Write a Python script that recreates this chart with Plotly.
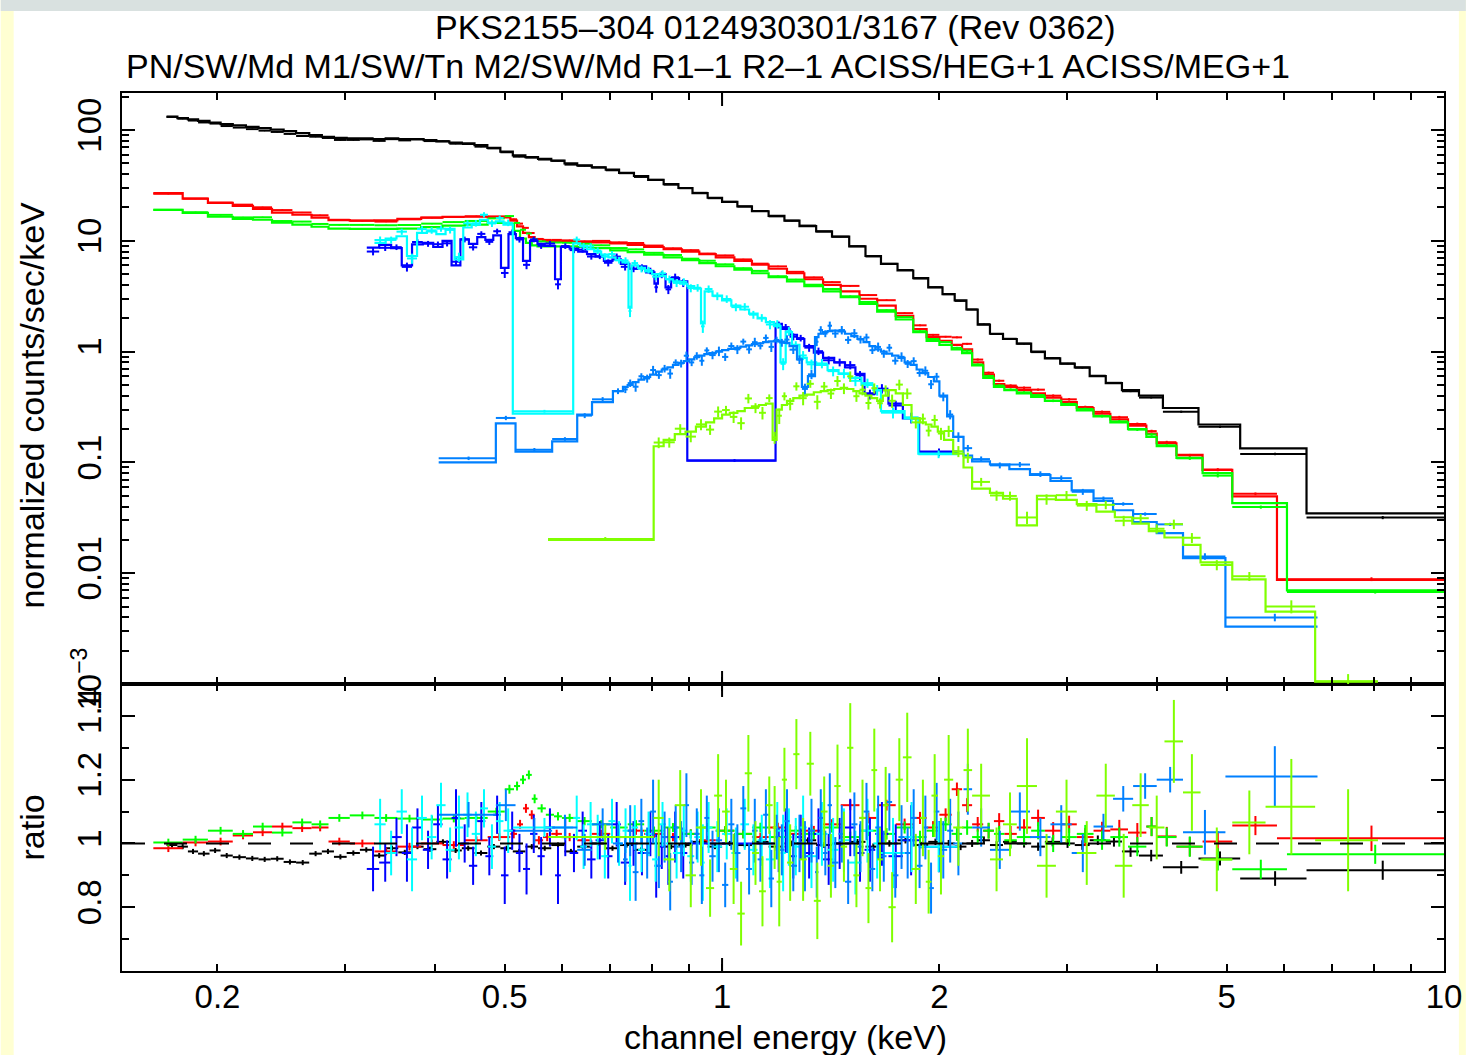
import math
import plotly.graph_objects as go

# ---------------------------------------------------------------------------
# Spectral data: bin edges (keV), folded model (counts/s/keV),
# data/model ratio and 1-sigma ratio error for every instrument.
# ---------------------------------------------------------------------------

# EPIC-pn  (PN/SW/Md)
pn_edges = [0.170, 0.176, 0.182, 0.188, 0.195, 0.202, 0.210, 0.219, 0.228, 0.237,
            0.247, 0.257, 0.268, 0.279, 0.290, 0.302, 0.315, 0.328, 0.342, 0.356,
            0.371, 0.386, 0.402, 0.419, 0.436, 0.454, 0.473, 0.493, 0.513, 0.534,
            0.556, 0.580, 0.605, 0.630, 0.660, 0.690, 0.720, 0.755, 0.790, 0.830,
            0.870, 0.910, 0.955, 1.00, 1.05, 1.10, 1.16, 1.22, 1.28, 1.35,
            1.42, 1.50, 1.58, 1.66, 1.75, 1.84, 1.93, 2.02, 2.10, 2.18,
            2.26, 2.35, 2.45, 2.56, 2.68, 2.80, 2.94, 3.08, 3.23, 3.40,
            3.58, 3.78, 4.08, 4.57, 5.22, 6.45, 10.0]
pn_model = [132, 128, 125, 121, 117, 113, 110, 107, 104, 101,
            98, 94, 90, 87, 85, 84, 84, 83, 84, 83,
            83, 81, 79, 77, 76, 73, 69, 64, 59, 57,
            55, 53, 50, 48, 46, 44, 41, 38.5, 35.5, 32.5,
            30, 27, 24.5, 22.5, 20.5, 18.5, 16.8, 15.2, 13.6, 12.2,
            10.9, 8.9, 7.3, 6.2, 5.4, 4.6, 3.8, 3.3, 2.9, 2.4,
            1.75, 1.45, 1.3, 1.18, 1.0, 0.87, 0.78, 0.72, 0.6, 0.52,
            0.45, 0.40, 0.31, 0.22, 0.134, 0.0347]
pn_ratio = [0.995, 0.99, 0.975, 0.968, 0.978, 0.962, 0.957, 0.953, 0.95, 0.952,
            0.942, 0.94, 0.968, 0.975, 0.958, 0.97, 0.98, 0.962, 0.985, 0.972,
            0.99, 0.982, 1.005, 0.978, 0.985, 0.97, 0.99, 0.985, 0.975, 0.99,
            0.985, 0.995, 0.975, 0.99, 1.0, 0.985, 0.995, 0.98, 1.0, 0.99,
            0.995, 1.005, 0.99, 1.0, 0.995, 1.005, 0.99, 1.0, 1.01, 0.995,
            1.0, 1.005, 0.99, 1.0, 1.01, 0.995, 1.005, 1.0, 0.99, 1.0,
            1.01, 0.995, 1.005, 1.0, 0.99, 1.005, 1.0, 0.995, 1.01, 1.006,
            0.975, 0.962, 0.925, 0.953, 0.89, 0.916]
pn_err = [0.008, 0.008, 0.008, 0.008, 0.008, 0.008, 0.008, 0.008, 0.008, 0.008,
          0.008, 0.008, 0.008, 0.008, 0.008, 0.008, 0.008, 0.008, 0.008, 0.008,
          0.008, 0.008, 0.008, 0.008, 0.008, 0.008, 0.008, 0.008, 0.008, 0.008,
          0.008, 0.008, 0.008, 0.008, 0.008, 0.008, 0.008, 0.008, 0.008, 0.008,
          0.008, 0.008, 0.008, 0.008, 0.008, 0.008, 0.008, 0.009, 0.009, 0.009,
          0.009, 0.009, 0.01, 0.01, 0.01, 0.01, 0.01, 0.011, 0.011, 0.011,
          0.012, 0.012, 0.012, 0.013, 0.013, 0.014, 0.014, 0.015, 0.015, 0.016,
          0.017, 0.018, 0.02, 0.022, 0.023, 0.03]

# EPIC-MOS1  (M1/SW/Tn)
m1_edges = [0.163, 0.179, 0.194, 0.210, 0.224, 0.238, 0.254, 0.270, 0.285, 0.305,
            0.330, 0.355, 0.383, 0.410, 0.440, 0.4735, 0.509, 0.520, 0.530, 0.540,
            0.550, 0.565, 0.580, 0.600, 0.630, 0.660, 0.700, 0.740, 0.780, 0.830,
            0.880, 0.930, 0.980, 1.04, 1.10, 1.16, 1.23, 1.30, 1.38, 1.46,
            1.55, 1.64, 1.74, 1.84, 1.92, 2.00, 2.08, 2.15, 2.22, 2.30,
            2.38, 2.46, 2.56, 2.68, 2.80, 2.95, 3.10, 3.27, 3.45, 3.65,
            3.87, 4.00, 4.26, 4.63, 5.09, 5.87, 10.0]
m1_model = [27, 24, 22, 20.7, 19.4, 18, 17.2, 16.2, 15.4, 15.2,
            15.3, 15.8, 16.2, 16.5, 16.5, 16.3, 15.2, 13.5, 11.8, 10.8,
            10.3, 10.0, 9.9, 9.9, 9.8, 9.7, 9.5, 9.2, 8.8, 8.4,
            8.0, 7.6, 7.1, 6.6, 6.1, 5.6, 5.1, 4.5, 4.0, 3.5,
            3.0, 2.6, 2.1, 1.6, 1.35, 1.25, 1.15, 1.05, 0.80, 0.62,
            0.51, 0.48, 0.45, 0.42, 0.385, 0.35, 0.31, 0.275, 0.245, 0.215,
            0.182, 0.149, 0.117, 0.0855, 0.0493, 0.0087]
m1_ratio = [0.985, 1.003, 1.006, 1.025, 1.035, 1.053, 1.048, 1.05, 1.006, 1.0,
            0.975, 0.99, 1.0, 0.995, 1.01, 1.02, 1.03, 1.06, 1.11, 1.09,
            1.01, 1.02, 1.03, 1.02, 1.01, 1.03, 1.02, 1.04, 1.03, 1.02,
            1.03, 1.01, 1.04, 1.03, 1.02, 1.05, 1.03, 1.04, 1.06, 1.12,
            1.08, 1.12, 1.06, 1.08, 1.05, 1.09, 1.17, 1.12, 1.06, 1.04,
            1.07, 1.03, 1.05, 1.08, 1.04, 1.06, 1.02, 1.04, 1.044, 1.034,
            1.053, 1.022, 0.99, 1.006, 1.056, 1.016]
m1_err = [0.012, 0.012, 0.012, 0.012, 0.012, 0.012, 0.012, 0.012, 0.012, 0.012,
          0.012, 0.012, 0.012, 0.012, 0.012, 0.012, 0.014, 0.014, 0.014, 0.014,
          0.013, 0.013, 0.013, 0.013, 0.013, 0.013, 0.013, 0.013, 0.013, 0.013,
          0.014, 0.014, 0.014, 0.014, 0.014, 0.015, 0.015, 0.015, 0.016, 0.016,
          0.017, 0.017, 0.018, 0.019, 0.02, 0.02, 0.021, 0.022, 0.023, 0.024,
          0.025, 0.025, 0.026, 0.026, 0.027, 0.027, 0.028, 0.028, 0.03, 0.03,
          0.03, 0.03, 0.03, 0.032, 0.03, 0.04]

# EPIC-MOS2  (M2/SW/Md)
m2_edges = [0.163, 0.179, 0.194, 0.210, 0.224, 0.238, 0.254, 0.270, 0.285, 0.305,
            0.330, 0.355, 0.383, 0.410, 0.440, 0.4735, 0.500, 0.515, 0.525, 0.535,
            0.545, 0.555, 0.570, 0.585, 0.600, 0.630, 0.660, 0.700, 0.740, 0.780,
            0.830, 0.880, 0.930, 0.980, 1.04, 1.10, 1.16, 1.23, 1.30, 1.38,
            1.46, 1.55, 1.64, 1.74, 1.84, 1.92, 2.00, 2.08, 2.15, 2.22,
            2.30, 2.38, 2.46, 2.56, 2.68, 2.80, 2.95, 3.10, 3.27, 3.45,
            3.65, 3.87, 4.00, 4.26, 4.63, 5.09, 6.06, 10.0]
m2_model = [19.0, 17.9, 16.5, 15.8, 15.5, 14.6, 14.0, 13.4, 12.9, 12.8,
            12.8, 12.9, 13.3, 13.7, 14.0, 14.5, 14.3, 12.3, 10.5, 9.6,
            9.1, 8.9, 8.9, 8.9, 8.9, 8.8, 8.6, 8.2, 7.9, 7.5,
            7.1, 6.7, 6.3, 5.9, 5.5, 5.1, 4.7, 4.3, 3.9, 3.5,
            3.1, 2.7, 2.3, 1.95, 1.5, 1.25, 1.15, 1.05, 0.97, 0.75,
            0.58, 0.48, 0.45, 0.42, 0.39, 0.36, 0.33, 0.295, 0.26, 0.23,
            0.2, 0.17, 0.14, 0.11, 0.080, 0.043, 0.0070]
m2_ratio = [1.003, 1.012, 1.04, 1.03, 1.053, 1.034, 1.066, 1.06, 1.08, 1.088,
            1.08, 1.078, 1.075, 1.078, 1.08, 1.10, 1.17, 1.18, 1.20, 1.215,
            1.14, 1.11, 1.09, 1.085, 1.08, 1.07, 1.06, 1.05, 1.06, 1.04,
            1.05, 1.03, 1.05, 1.04, 1.03, 1.05, 1.02, 1.04, 1.03, 1.05,
            1.02, 1.04, 1.03, 1.05, 1.02, 1.04, 1.06, 1.03, 1.05, 1.02,
            1.04, 1.03, 1.01, 1.02, 1.04, 1.0, 1.02, 1.03, 1.01, 1.02,
            0.99, 1.053, 1.02, 0.99, 0.95, 0.919, 0.966]
m2_err = [0.012, 0.012, 0.012, 0.012, 0.012, 0.012, 0.012, 0.012, 0.012, 0.012,
          0.012, 0.012, 0.012, 0.012, 0.012, 0.012, 0.014, 0.014, 0.014, 0.014,
          0.014, 0.013, 0.013, 0.013, 0.013, 0.013, 0.013, 0.013, 0.013, 0.013,
          0.014, 0.014, 0.014, 0.014, 0.014, 0.015, 0.015, 0.015, 0.016, 0.016,
          0.017, 0.017, 0.018, 0.019, 0.02, 0.02, 0.021, 0.022, 0.023, 0.024,
          0.025, 0.025, 0.026, 0.026, 0.027, 0.027, 0.028, 0.028, 0.03, 0.03,
          0.03, 0.03, 0.03, 0.032, 0.035, 0.03, 0.03]

# RGS1  (R1-1)
r1_edges = [0.322, 0.335, 0.348, 0.360, 0.372, 0.385, 0.398, 0.410, 0.422, 0.434,
            0.446, 0.458, 0.470, 0.482, 0.494, 0.506, 0.518, 0.530, 0.542, 0.555,
            0.568, 0.587, 0.598, 0.615, 0.632, 0.650, 0.668, 0.686, 0.705, 0.724,
            0.744, 0.764, 0.785, 0.806, 0.815, 0.835, 0.850, 0.872, 0.895, 1.186,
            1.21, 1.24, 1.27, 1.30, 1.34, 1.38, 1.43, 1.48, 1.53, 1.575,
            1.63, 1.70, 1.78, 1.875, 2.12]
r1_model = [8.7, 9.2, 8.6, 6.0, 9.3, 9.6, 8.8, 10.0, 6.0, 10.3,
            9.4, 10.8, 10.2, 11.2, 5.7, 11.5, 10.6, 6.6, 10.0, 9.4,
            9.0, 4.5, 8.8, 8.5, 8.0, 7.6, 7.2, 6.6, 6.8, 6.2,
            5.6, 5.9, 5.2, 4.1, 5.0, 3.8, 4.6, 4.3, 0.104, 1.78,
            1.6, 1.42, 1.3, 1.12, 0.98, 0.88, 0.8, 0.72, 0.63, 0.42,
            0.45, 0.34, 0.25, 0.125]
r1_ratio = [0.92, 0.94, 1.02, 0.97, 1.05, 0.98, 1.06, 0.95, 1.08, 1.0,
            0.93, 1.07, 0.96, 1.09, 0.9, 1.04, 0.97, 0.92, 1.03, 0.96,
            1.05, 0.9, 1.02, 0.97, 1.04, 0.95, 1.01, 0.96, 1.06, 0.94,
            1.0, 0.97, 1.03, 0.93, 0.99, 0.96, 1.02, 0.97, 1.0, 0.98,
            1.04, 0.96, 1.02, 0.97, 1.03, 0.95, 1.0, 1.05, 0.97, 0.98,
            1.03, 0.96, 1.01, 0.99]
r1_err = [0.07, 0.06, 0.06, 0.09, 0.06, 0.06, 0.06, 0.06, 0.09, 0.06,
          0.06, 0.06, 0.06, 0.06, 0.09, 0.06, 0.06, 0.08, 0.06, 0.06,
          0.06, 0.09, 0.06, 0.06, 0.06, 0.06, 0.06, 0.07, 0.07, 0.07,
          0.07, 0.07, 0.07, 0.1, 0.07, 0.09, 0.08, 0.08, 0.03, 0.07,
          0.07, 0.07, 0.07, 0.08, 0.08, 0.08, 0.08, 0.09, 0.09, 0.1,
          0.1, 0.1, 0.11, 0.08]

# RGS2  (R2-1)
r2_edges = [0.330, 0.342, 0.354, 0.366, 0.378, 0.390, 0.402, 0.414, 0.426, 0.438,
            0.450, 0.462, 0.474, 0.486, 0.498, 0.513, 0.622, 0.636, 0.650, 0.665,
            0.680, 0.696, 0.712, 0.728, 0.742, 0.749, 0.765, 0.782, 0.800, 0.818,
            0.836, 0.855, 0.875, 0.895, 0.915, 0.935, 0.946, 0.97, 1.0, 1.03,
            1.06, 1.09, 1.12, 1.15, 1.18, 1.205, 1.225, 1.25, 1.28, 1.31,
            1.35, 1.40, 1.45, 1.50, 1.56, 1.62, 1.66, 1.79, 1.87, 2.12]
r2_model = [9.6, 10.5, 11.0, 7.3, 11.8, 12.2, 11.5, 12.8, 6.8, 13.2,
            14.0, 15.5, 14.5, 15.0, 14.0, 0.276, 9.5, 9.0, 8.4, 8.0,
            7.5, 7.1, 6.7, 6.4, 2.5, 6.0, 5.7, 5.3, 5.0, 4.8,
            4.5, 4.3, 4.1, 3.9, 3.7, 1.8, 3.5, 3.2, 2.9, 2.6,
            2.4, 2.2, 2.0, 1.85, 1.7, 0.8, 1.5, 1.15, 0.88, 0.8,
            0.76, 0.68, 0.63, 0.58, 0.5, 0.45, 0.29, 0.25, 0.12]
r2_ratio = [1.06, 0.97, 1.10, 0.95, 1.08, 1.02, 1.12, 0.98, 1.05, 1.09,
            1.03, 1.11, 0.99, 1.07, 1.04, 1.05, 1.08, 0.99, 1.06, 1.02,
            0.96, 1.07, 1.0, 1.04, 0.93, 1.05, 0.98, 1.03, 0.95, 1.06,
            1.0, 0.97, 1.04, 0.96, 1.02, 0.94, 1.05, 0.99, 1.03, 0.97,
            1.06, 0.98, 1.01, 0.95, 1.04, 0.97, 1.02, 0.99, 1.05, 0.96,
            1.03, 0.98, 1.01, 0.94, 1.04, 1.0, 0.97, 1.02, 0.99]
r2_err = [0.08, 0.07, 0.07, 0.1, 0.07, 0.07, 0.07, 0.07, 0.1, 0.07,
          0.07, 0.06, 0.07, 0.06, 0.07, 0.03, 0.07, 0.07, 0.07, 0.07,
          0.07, 0.07, 0.07, 0.07, 0.11, 0.07, 0.07, 0.07, 0.07, 0.07,
          0.08, 0.08, 0.08, 0.08, 0.08, 0.12, 0.08, 0.08, 0.08, 0.08,
          0.08, 0.08, 0.08, 0.09, 0.09, 0.12, 0.09, 0.09, 0.1, 0.1,
          0.1, 0.1, 0.1, 0.1, 0.1, 0.11, 0.11, 0.11, 0.08]

# Chandra ACIS-S / HETG  (ACISS/HEG+1)
heg_edges = [0.405, 0.486, 0.5175, 0.5816, 0.630, 0.6605, 0.706, 0.729, 0.740, 0.752,
             0.766, 0.78, 0.795, 0.81, 0.825, 0.84, 0.855, 0.87, 0.885, 0.90,
             0.915, 0.93, 0.945, 0.96, 0.98, 1.0, 1.02, 1.04, 1.06, 1.08,
             1.10, 1.12, 1.14, 1.16, 1.18, 1.20, 1.22, 1.24, 1.27, 1.29,
             1.315, 1.345, 1.36, 1.38, 1.40, 1.42, 1.45, 1.48, 1.51, 1.54,
             1.57, 1.60, 1.63, 1.66, 1.69, 1.72, 1.755, 1.79, 1.825, 1.86,
             1.895, 1.93, 1.965, 2.00, 2.05, 2.09, 2.16, 2.22, 2.35, 2.50,
             2.67, 2.85, 3.05, 3.27, 3.48, 3.71, 4.00, 4.35, 4.98, 6.68]
heg_model = [0.10, 0.225, 0.125, 0.155, 0.27, 0.35, 0.44, 0.48, 0.5, 0.53,
             0.56, 0.59, 0.62, 0.66, 0.69, 0.72, 0.76, 0.79, 0.82, 0.85,
             0.89, 0.92, 0.95, 0.97, 1.0, 1.03, 1.06, 1.08, 1.11, 1.14,
             1.17, 1.19, 1.22, 1.24, 1.25, 1.23, 1.2, 1.12, 0.85, 0.48,
             0.6, 1.35, 1.45, 1.5, 1.53, 1.55, 1.52, 1.45, 1.38, 1.3,
             1.22, 1.12, 1.05, 1.0, 0.96, 0.92, 0.88, 0.8, 0.76, 0.69,
             0.64, 0.59, 0.54, 0.4, 0.26, 0.17, 0.115, 0.102, 0.096, 0.087,
             0.077, 0.068, 0.056, 0.045, 0.037, 0.029, 0.023, 0.0137, 0.0033]
heg_ratio = [1.09, 1.12, 1.04, 1.05, 0.98, 1.06, 1.0, 0.95, 1.04, 0.91,
             1.07, 0.97, 1.1, 0.93, 1.02, 0.88, 1.05, 0.99, 1.12, 0.94,
             1.03, 0.9, 1.08, 0.96, 1.01, 0.87, 1.06, 0.97, 1.11, 0.92,
             1.04, 0.95, 1.09, 0.89, 1.02, 0.98, 1.07, 0.93, 1.0, 0.96,
             1.04, 0.91, 1.08, 0.97, 1.12, 0.94, 1.03, 0.88, 1.06, 0.99,
             1.1, 0.92, 1.05, 0.96, 1.13, 0.9, 1.02, 0.97, 1.08, 0.93,
             1.05, 0.86, 1.1, 0.98, 1.04, 1.0, 1.17, 1.05, 0.98, 1.1,
             1.02, 1.06, 0.97, 1.053, 1.14, 1.18, 1.2, 1.035, 1.21]
heg_err = [0.04, 0.05, 0.04, 0.04, 0.05, 0.05, 0.06, 0.07, 0.08, 0.09,
           0.07, 0.08, 0.1, 0.07, 0.08, 0.09, 0.07, 0.08, 0.1, 0.07,
           0.08, 0.09, 0.07, 0.08, 0.1, 0.07, 0.08, 0.09, 0.07, 0.08,
           0.1, 0.07, 0.08, 0.09, 0.07, 0.08, 0.1, 0.08, 0.09, 0.11,
           0.1, 0.08, 0.09, 0.07, 0.1, 0.08, 0.09, 0.07, 0.1, 0.08,
           0.09, 0.07, 0.1, 0.08, 0.09, 0.07, 0.1, 0.08, 0.09, 0.07,
           0.1, 0.08, 0.09, 0.09, 0.1, 0.1, 0.08, 0.06, 0.06, 0.06,
           0.06, 0.06, 0.06, 0.04, 0.04, 0.04, 0.04, 0.07, 0.095]

# Chandra ACIS-S / HETG  (ACISS/MEG+1)
meg_edges = [0.574, 0.804, 0.83, 0.86, 0.89, 0.92, 0.95, 0.975, 1.0, 1.025,
             1.05, 1.075, 1.10, 1.125, 1.15, 1.175, 1.19, 1.21, 1.23, 1.255,
             1.28, 1.31, 1.34, 1.37, 1.40, 1.43, 1.46, 1.49, 1.52, 1.55,
             1.58, 1.61, 1.64, 1.67, 1.70, 1.74, 1.78, 1.83, 1.88, 1.915,
             1.95, 1.99, 2.03, 2.09, 2.16, 2.22, 2.35, 2.45, 2.56, 2.73,
             2.90, 3.10, 3.30, 3.50, 3.70, 3.90, 4.10, 4.35, 4.60, 5.09,
             5.66, 6.63, 8.10]
meg_model = [0.02, 0.14, 0.16, 0.18, 0.19, 0.21, 0.23, 0.25, 0.27, 0.28,
             0.29, 0.31, 0.32, 0.33, 0.34, 0.16, 0.3, 0.33, 0.36, 0.38,
             0.4, 0.41, 0.43, 0.44, 0.45, 0.46, 0.47, 0.46, 0.44, 0.42,
             0.4, 0.38, 0.36, 0.4, 0.45, 0.42, 0.33, 0.25, 0.23, 0.22,
             0.21, 0.19, 0.16, 0.12, 0.09, 0.058, 0.053, 0.047, 0.027, 0.05,
             0.046, 0.042, 0.036, 0.032, 0.028, 0.024, 0.021, 0.018, 0.0125, 0.0088,
             0.0045, 0.00105]
meg_ratio = [1.02, 1.08, 0.95, 1.12, 0.9, 1.05, 0.86, 1.15, 1.1, 0.92,
             0.78, 1.22, 0.97, 0.85, 1.12, 1.05, 0.88, 1.2, 0.94, 1.28,
             0.95, 1.25, 0.82, 1.1, 0.93, 1.18, 0.99, 1.3, 0.9, 1.08,
             0.86, 1.23, 0.95, 1.12, 0.8, 1.2, 1.27, 0.92, 1.08, 0.88,
             1.15, 0.96, 1.2, 1.05, 1.23, 1.15, 0.95, 1.06, 1.18, 0.93,
             1.1, 0.97, 1.15, 0.93, 1.12, 1.05, 1.32, 1.16, 0.95, 1.066,
             1.115, 1.01]
meg_err = [0.04, 0.12, 0.1, 0.11, 0.1, 0.12, 0.09, 0.13, 0.1, 0.11,
           0.1, 0.12, 0.1, 0.11, 0.09, 0.13, 0.14, 0.1, 0.12, 0.11,
           0.13, 0.1, 0.12, 0.11, 0.1, 0.13, 0.11, 0.14, 0.1, 0.12,
           0.11, 0.13, 0.1, 0.12, 0.11, 0.13, 0.14, 0.11, 0.12, 0.1,
           0.13, 0.12, 0.14, 0.12, 0.13, 0.1, 0.1, 0.1, 0.15, 0.1,
           0.1, 0.1, 0.1, 0.1, 0.1, 0.1, 0.13, 0.12, 0.1, 0.1,
           0.15, 0.16]

series = [
    (pn_edges, pn_model, pn_ratio, pn_err, "#000000"),
    (m1_edges, m1_model, m1_ratio, m1_err, "#ff0000"),
    (m2_edges, m2_model, m2_ratio, m2_err, "#00ff00"),
    (r1_edges, r1_model, r1_ratio, r1_err, "#0000ff"),
    (r2_edges, r2_model, r2_ratio, r2_err, "#00ffff"),
    (heg_edges, heg_model, heg_ratio, heg_err, "#0080ff"),
    (meg_edges, meg_model, meg_ratio, meg_err, "#80ff00"),
]

title_top = "PKS2155\u2013304 0124930301/3167 (Rev 0362)"
title_sub = "PN/SW/Md M1/SW/Tn M2/SW/Md R1\u20131 R2\u20131 ACISS/HEG+1 ACISS/MEG+1"

x_ticks = [0.2, 0.5, 1, 2, 5, 10]
x_ticklabels = ["0.2", "0.5", "1", "2", "5", "10"]
y_ticks = [1e-3, 0.01, 0.1, 1, 10, 100]
y_ticklabels = ["10<sup>\u22123</sup>", "0.01", "0.1", "1", "10", "100"]
r_ticks = [0.8, 1.0, 1.2, 1.4]
r_ticklabels = ["0.8", "1", "1.2", "1.4"]

# ---------------------------------------------------------------------------
# Page geometry
# ---------------------------------------------------------------------------
W, H = 1474, 1055
L, R, T, B = 122, W - 1452, 93, H - 971
PW, PH = W - L - R, H - T - B
split = (971 - 684) / PH
FONT = "Liberation Sans"
TXT = 34
TICK = 33


def px_x(px):
    return (px - L) / PW


def px_y(py):
    return (H - B - py) / PH


fig = go.Figure()

# Upper panel: folded model as steps plus data crosses
for edges, model, ratio, err, color in series:
    lo, hi = edges[:-1], edges[1:]
    mid = [(a + b) / 2 for a, b in zip(lo, hi)]
    fig.add_trace(go.Scatter(
        x=edges, y=list(model) + [model[-1]], mode="lines",
        line=dict(color=color, width=2.2, shape="hv"),
        xaxis="x2", yaxis="y2", hoverinfo="skip"))
    fig.add_trace(go.Scatter(
        x=mid, y=[m * r for m, r in zip(model, ratio)], mode="markers",
        marker=dict(size=1, color=color),
        error_x=dict(type="data", symmetric=False,
                     array=[h - c for h, c in zip(hi, mid)],
                     arrayminus=[c - l for c, l in zip(mid, lo)],
                     color=color, thickness=2, width=0),
        error_y=dict(type="data", array=[m * s for m, s in zip(model, err)],
                     color=color, thickness=2, width=0),
        xaxis="x2", yaxis="y2", hoverinfo="skip"))

# Lower panel: data / model ratio
for edges, model, ratio, err, color in series:
    lo, hi = edges[:-1], edges[1:]
    mid = [(a + b) / 2 for a, b in zip(lo, hi)]
    fig.add_trace(go.Scatter(
        x=mid, y=ratio, mode="markers",
        marker=dict(size=1, color=color),
        error_x=dict(type="data", symmetric=False,
                     array=[h - c for h, c in zip(hi, mid)],
                     arrayminus=[c - l for c, l in zip(mid, lo)],
                     color=color, thickness=2, width=0),
        error_y=dict(type="data", array=err, color=color, thickness=2, width=0),
        xaxis="x", yaxis="y", hoverinfo="skip"))

axis_style = dict(showline=True, linecolor="black", linewidth=2, mirror="allticks",
                  ticks="inside", tickcolor="black", tickwidth=2, showgrid=False,
                  zeroline=False)
minor_style = dict(ticks="inside", ticklen=7, tickwidth=2, tickcolor="black", showgrid=False)

x_minor = [0.3, 0.4, 0.6, 0.7, 0.8, 0.9, 3, 4, 6, 7, 8, 9]
y_minor = [k * 10.0 ** d for d in range(-3, 3) for k in range(2, 10) if k * 10.0 ** d < 216]
r_minor = [0.7, 0.9, 1.1, 1.3]
x_range = [math.log10(0.1475), 1.0]

fig.update_layout(
    width=W, height=H,
    margin=dict(l=L, r=R, t=T, b=B, pad=0),
    paper_bgcolor="white", plot_bgcolor="white",
    showlegend=False,
    font=dict(family=FONT, size=TXT, color="black"),
    xaxis=dict(type="log", range=x_range, domain=[0, 1], anchor="y",
               tickmode="array", tickvals=x_ticks, ticktext=x_ticklabels, ticklen=7,
               ticklabelstandoff=-5,
               minor=dict(tickmode="array", tickvals=x_minor, **minor_style),
               tickfont=dict(family=FONT, size=TICK), **axis_style),
    xaxis2=dict(type="log", range=x_range, domain=[0, 1], anchor="y2", matches="x",
                tickmode="array", tickvals=x_ticks, ticklen=7, showticklabels=False,
                minor=dict(tickmode="array", tickvals=x_minor, **minor_style),
                **axis_style),
    yaxis=dict(domain=[0, split], range=[0.6, 1.5], anchor="x",
               tickmode="array", tickvals=r_ticks, ticktext=r_ticklabels, ticklen=13,
               tickangle=-90, ticklabelstandoff=6,
               minor=dict(tickmode="array", tickvals=r_minor, **minor_style),
               tickfont=dict(family=FONT, size=TICK), **axis_style),
    yaxis2=dict(domain=[split, 1], type="log", range=[-3, math.log10(216)], anchor="x2",
                tickmode="array", tickvals=y_ticks, ticktext=y_ticklabels, ticklen=13,
                tickangle=-90, ticklabelstandoff=6,
                minor=dict(tickmode="array", tickvals=y_minor, **minor_style),
                tickfont=dict(family=FONT, size=TICK), **axis_style),
)

shapes = [
    # page border strips
    dict(type="rect", xref="paper", yref="paper", x0=px_x(0), x1=px_x(13),
         y0=px_y(H), y1=px_y(0), fillcolor="#ffffd2", line=dict(width=0), layer="below"),
    dict(type="rect", xref="paper", yref="paper", x0=px_x(1467), x1=px_x(W),
         y0=px_y(H), y1=px_y(0), fillcolor="#ffffd2", line=dict(width=0), layer="below"),
    dict(type="rect", xref="paper", yref="paper", x0=px_x(0), x1=px_x(W),
         y0=px_y(11), y1=px_y(0), fillcolor="#d9e1e0", line=dict(width=0), layer="below"),
    # unity reference in the ratio panel
    dict(type="line", xref="x domain", yref="y", x0=0, x1=1, y0=1, y1=1,
         line=dict(color="black", width=2, dash="23px,19px"), layer="above"),
]
# longer decade ticks at 1 keV
for yref, ln in (("y2 domain", 13 / 591), ("y domain", 13 / 287)):
    shapes.append(dict(type="line", xref="x", yref=yref, x0=1, x1=1, y0=0, y1=ln,
                       line=dict(color="black", width=2)))
    shapes.append(dict(type="line", xref="x", yref=yref, x0=1, x1=1, y0=1 - ln, y1=1,
                       line=dict(color="black", width=2)))
fig.update_layout(shapes=shapes)

annotations = [
    dict(text=title_top, x=px_x(779), y=px_y(27), xanchor="center", yanchor="middle"),
    dict(text=title_sub, x=px_x(124), y=px_y(66), xanchor="left", yanchor="middle"),
    dict(text="normalized counts/sec/keV", x=px_x(31), y=px_y(405), textangle=-90,
         xanchor="center", yanchor="middle"),
    dict(text="ratio", x=px_x(31), y=px_y(828), textangle=-90,
         xanchor="center", yanchor="middle"),
    dict(text="channel energy (keV)", x=px_x(790), y=px_y(1037),
         xanchor="center", yanchor="middle"),
]
for a in annotations:
    a.update(xref="paper", yref="paper", showarrow=False,
             font=dict(family=FONT, size=TXT, color="black"))
fig.update_layout(annotations=annotations)

fig.write_html("out.html")
